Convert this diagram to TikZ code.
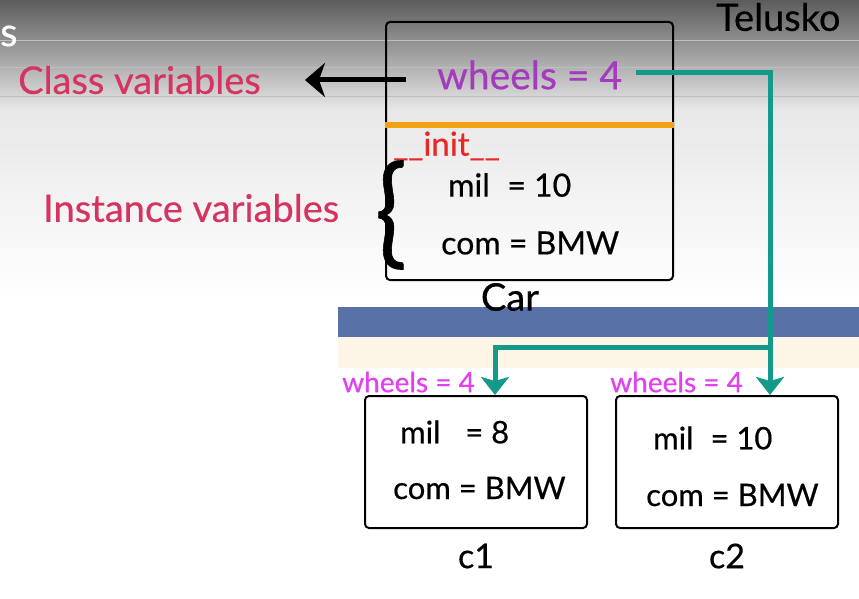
\documentclass[tikz,border=0pt]{standalone}
\usepackage{fontspec}
\setmainfont{Lato}
\newfontface\medfont{Lato}[FakeBold=0.5]
\usetikzlibrary{arrows.meta}

\definecolor{clsred}{RGB}{214,52,96}
\definecolor{wheelpurple}{RGB}{164,58,190}
\definecolor{wheelpink}{RGB}{226,64,240}
\definecolor{linkteal}{RGB}{20,154,138}
\definecolor{initorange}{RGB}{240,162,16}
\definecolor{initred}{RGB}{232,40,36}
\definecolor{bandblue}{RGB}{88,114,168}
\definecolor{bandcream}{RGB}{253,246,230}
\definecolor{bgtop}{RGB}{92,92,92}
\definecolor{bgmid}{RGB}{232,232,232}

\newcommand{\fsz}[1]{\fontsize{#1}{#1}\medfont}

\tikzset{
  objbox/.style={draw=black, line width=2pt, rounded corners=4pt, inner sep=0pt},
  txt/.style={inner sep=0pt, anchor=west},
  link/.style={draw=linkteal, line width=5pt, -{Stealth[length=18pt,width=28pt,inset=4pt]}}
}

\begin{document}
\begin{tikzpicture}[x=1pt,y=-1pt]
\useasboundingbox (0,0) rectangle (859,599);
  % background of the video frame
  \fill[white] (0,0) rectangle (859,599);
  \shade[top color=bgtop, bottom color=bgmid] (0,0) rectangle (859,110);
  \shade[top color=bgmid, bottom color=white] (0,110) rectangle (859,300);
  \draw[gray!50, line width=1pt] (0,41)--(859,41) (0,68)--(859,68) (0,97)--(859,97);
  \fill[bandblue] (338,307) rectangle (859,337);
  \fill[bandcream] (338,337) rectangle (859,368);

  \node[txt, text=white, font=\fsz{40}] (title) at (0,36) {s};
  \node[txt, font=\fsz{38}] (brand) at (716,17) {Telusko};

  % class Car
  \node[objbox, minimum width=287pt, minimum height=258pt] (car) at (529.5,151) {};
  \draw[initorange, line width=6pt] (car.west |- 0,125)--(car.east |- 0,125);
  \node[font=\fsz{38}, inner sep=0pt] (carname) at (510,297) {Car};

  \node[txt, text=wheelpurple, font=\fsz{39}] (wheels) at (437,75) {wheels = 4};
  \node[txt, text=clsred, font=\fsz{38}] (classvar) at (18,80) {Class variables};
  \draw[line width=5pt, -{Stealth[length=20pt,width=34pt,inset=6pt]}] ([xshift=-31pt]wheels.west |- classvar) -- ([xshift=44pt]classvar.east);

  \node[txt, text=initred, font=\fsz{33}] (init) at (393,146) {\_\_init\_\_};
  \node[txt, font=\fsz{32}] (mil) at (448,185) {mil\hspace{0.55em}= 10};
  \node[txt, font=\fsz{32}] (com) at (441,243) {com = BMW};
  \node[font=\fsz{92}\bfseries, inner sep=0pt] (brace) at (391,215) {\scalebox{1.15}[1.3]{\{}};
  \node[txt, text=clsred, font=\fsz{38}] (instvar) at (43,208) {Instance variables};

  % objects c1 and c2
  \node[objbox, minimum width=222pt, minimum height=132pt] (cone) at (476,462) {};
  \node[objbox, minimum width=222pt, minimum height=132pt] (ctwo) at (727,462) {};
  \node[txt, font=\fsz{31}] (milone) at (400,432) {mil\hspace{0.8em}= 8};
  \node[txt, font=\fsz{31}] (comone) at (393,488) {com = BMW};
  \node[txt, font=\fsz{31}] (miltwo) at (653,438) {mil\hspace{0.55em}= 10};
  \node[txt, font=\fsz{31}] (comtwo) at (646,495) {com = BMW};
  \node[font=\fsz{34}, inner sep=0pt] (cname1) at (476,556) {c1};
  \node[font=\fsz{34}, inner sep=0pt] (cname2) at (727,556) {c2};
  \node[txt, text=wheelpink, font=\fsz{28}] (wone) at (342,382) {wheels = 4};
  \node[txt, text=wheelpink, font=\fsz{28}] (wtwo) at (610,382) {wheels = 4};

  % shared class variable
  \coordinate (turn) at (770,73);
  \coordinate (fork) at (770,347);
  \coordinate (drop) at (495,347);
  \draw[link] ([xshift=14pt]wheels.east |- turn) -- (turn) -- (turn |- ctwo.north);
  \draw[link] (fork) -- (drop) -- (drop |- cone.north);
\end{tikzpicture}
\end{document}
